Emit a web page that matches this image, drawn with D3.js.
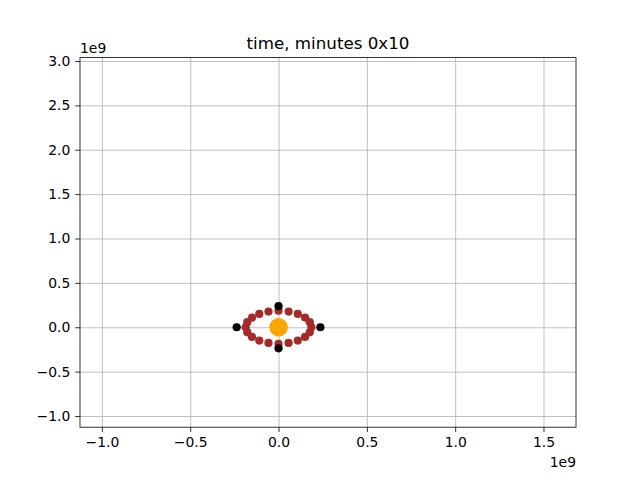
<!DOCTYPE html>
<html>
<head>
<meta charset="utf-8">
<script src="https://cdn.jsdelivr.net/npm/d3@7"></script>
<style>
  body { margin: 0; background: #fff; }
  svg { display: block; font-family: "DejaVu Sans", sans-serif; }
</style>
</head>
<body>
<svg id="chart" width="640" height="480"></svg>
<script>
// Data (units of 1e9)
const titleText = "time, minutes 0x10";
const xTicks = [-1.0, -0.5, 0.0, 0.5, 1.0, 1.5];
const yTicks = [-1.0, -0.5, 0.0, 0.5, 1.0, 1.5, 2.0, 2.5, 3.0];
const xDomain = [-1.124, 1.684];
const yDomain = [-1.126, 3.038];

// orbit points (brown)
const orbitX = [0.186, 0.177, 0.150, 0.109, 0.057, 0.000, -0.057, -0.109, -0.150, -0.177,
                -0.186, -0.177, -0.150, -0.109, -0.057, 0.000, 0.057, 0.109, 0.150, 0.177];
const orbitY = [0.000, 0.057, 0.109, 0.150, 0.177, 0.186, 0.177, 0.150, 0.109, 0.057,
                0.000, -0.057, -0.109, -0.150, -0.177, -0.186, -0.177, -0.150, -0.109, -0.057];
// black points
const blackX = [0.237, 0.000, -0.237, 0.000];
const blackY = [0.000, 0.237, 0.000, -0.237];
// central body (orange)
const centerX = [0.0];
const centerY = [0.0];

(function () {
const svg = d3.select("#chart");
const mLeft = 80, mRight = 576, mTop = 57.6, mBottom = 427.2;
const x = d3.scaleLinear().domain(xDomain).range([mLeft, mRight]);
const y = d3.scaleLinear().domain(yDomain).range([mBottom, mTop]);
const fmt = v => d3.format(".1f")(v).replace("-", "\u2212");
const tickLen = 4.86, pad = 4.86;

// grid
svg.append("g").attr("transform", `translate(0,${mBottom})`)
  .call(d3.axisBottom(x).tickValues(xTicks).tickSize(-(mBottom - mTop)).tickFormat(""))
  .call(g => g.select(".domain").remove())
  .call(g => g.selectAll("line").attr("stroke", "#b0b0b0").attr("stroke-width", 0.8));
svg.append("g").attr("transform", `translate(${mLeft},0)`)
  .call(d3.axisLeft(y).tickValues(yTicks).tickSize(-(mRight - mLeft)).tickFormat(""))
  .call(g => g.select(".domain").remove())
  .call(g => g.selectAll("line").attr("stroke", "#b0b0b0").attr("stroke-width", 0.8));

// marks
svg.append("g").selectAll("circle").data(orbitX.map((v, i) => [v, orbitY[i]]))
  .join("circle").attr("cx", d => x(d[0])).attr("cy", d => y(d[1]))
  .attr("r", 4.1).attr("fill", "#a52a2a");
svg.append("g").selectAll("circle").data(blackX.map((v, i) => [v, blackY[i]]))
  .join("circle").attr("cx", d => x(d[0])).attr("cy", d => y(d[1]))
  .attr("r", 4.1).attr("fill", "#000");
svg.append("g").selectAll("circle").data(centerX.map((v, i) => [v, centerY[i]]))
  .join("circle").attr("cx", d => x(d[0])).attr("cy", d => y(d[1]))
  .attr("r", 9.3).attr("fill", "#ffa500");

// axes
const xa = svg.append("g").attr("transform", `translate(0,${mBottom})`)
  .call(d3.axisBottom(x).tickValues(xTicks).tickSize(tickLen).tickPadding(pad).tickFormat(fmt));
const ya = svg.append("g").attr("transform", `translate(${mLeft},0)`)
  .call(d3.axisLeft(y).tickValues(yTicks).tickSize(tickLen).tickPadding(pad).tickFormat(fmt));
[xa, ya].forEach(g => {
  g.select(".domain").remove();
  g.selectAll("line").attr("stroke", "#000").attr("stroke-width", 0.8);
  g.selectAll("text").attr("font-size", "13.9px").attr("fill", "#000")
    .attr("font-family", "DejaVu Sans, sans-serif");
});

// frame
svg.append("rect").attr("x", mLeft).attr("y", mTop)
  .attr("width", mRight - mLeft).attr("height", mBottom - mTop)
  .attr("fill", "none").attr("stroke", "#000").attr("stroke-width", 0.8);

// offset texts
svg.append("text").attr("x", mLeft).attr("y", 52.5).attr("font-size", "13.9px").text("1e9");
svg.append("text").attr("x", mRight).attr("y", 467).attr("text-anchor", "end")
  .attr("font-size", "13.9px").text("1e9");

// title
svg.append("text").attr("x", (mLeft + mRight) / 2).attr("y", 49.3)
  .attr("text-anchor", "middle").attr("font-size", "16.7px").text(titleText);
})();
</script>
</body>
</html>
